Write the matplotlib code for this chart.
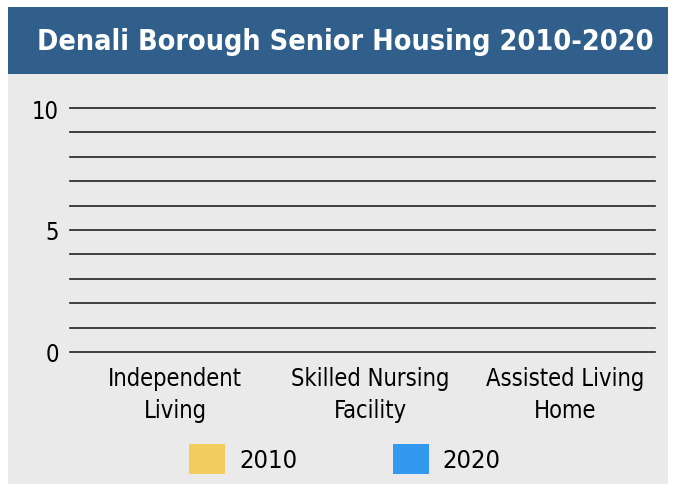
import matplotlib.pyplot as plt
from matplotlib.patches import Rectangle, Patch
import numpy as np

# datos del grafico
categorias = ["Independent\nLiving", "Skilled Nursing\nFacility", "Assisted Living\nHome"]
valores_2010 = [0, 0, 0]
valores_2020 = [0, 0, 0]
series = ["2010", "2020"]
colores = ["#F2CD5E", "#3399F0"]
titulo = "Denali Borough Senior Housing 2010-2020"

plt.rcParams['font.family'] = ['DejaVu Sans']
plt.rcParams['font.stretch'] = 'condensed'

fig = plt.figure(figsize=(6.9, 4.85), dpi=100)
W, H = 690, 485

# fondo gris y barra del titulo
fig.patches.append(Rectangle((8 / W, 0), 660 / W, (H - 75) / H, transform=fig.transFigure,
                             facecolor="#EAEAEA", edgecolor="none", zorder=-5))
fig.patches.append(Rectangle((8 / W, (H - 75) / H), 660 / W, 67 / H, transform=fig.transFigure,
                             facecolor="#2F5F8A", edgecolor="none", zorder=-5))
fig.text(345 / W, (H - 42) / H, titulo, color="white", fontsize=20.6, fontweight="bold",
         ha="center", va="center")

ax = fig.add_axes([70 / W, (H - 353) / H, 585 / W, 244 / H])
ax.set_facecolor("none")

x = np.arange(len(categorias))
ancho = 0.35
ax.bar(x - ancho / 2, valores_2010, ancho, color=colores[0], label=series[0], zorder=3)
ax.bar(x + ancho / 2, valores_2020, ancho, color=colores[1], label=series[1], zorder=3)

ax.set_ylim(0, 10)
ax.set_xlim(-0.54, 2.46)
ax.set_yticks([0, 5, 10])
ax.set_yticks(np.arange(0, 11, 1), minor=True)
ax.yaxis.grid(True, which="both", color="#222222", linewidth=1.2)
for t in ax.yaxis.get_major_ticks() + ax.yaxis.get_minor_ticks():
    t.gridline.set_clip_on(False)
ax.set_axisbelow(True)
ax.tick_params(axis="y", which="both", length=0, pad=8, labelsize=17)
ax.set_xticks(x)
ax.set_xticklabels(categorias, fontsize=17, linespacing=1.45)
ax.tick_params(axis="x", length=0, pad=10)
for s in ax.spines.values():
    s.set_visible(False)

handles = [Patch(facecolor=colores[0], label=series[0]),
           Patch(facecolor=colores[1], label=series[1])]
fig.legend(handles=handles, loc="center", bbox_to_anchor=(345 / W, (H - 460) / H), ncol=2,
           frameon=False, fontsize=18.3, handlelength=1.42, handleheight=1.42,
           columnspacing=3.75, handletextpad=0.55)

fig.savefig("out.png", dpi=100)
